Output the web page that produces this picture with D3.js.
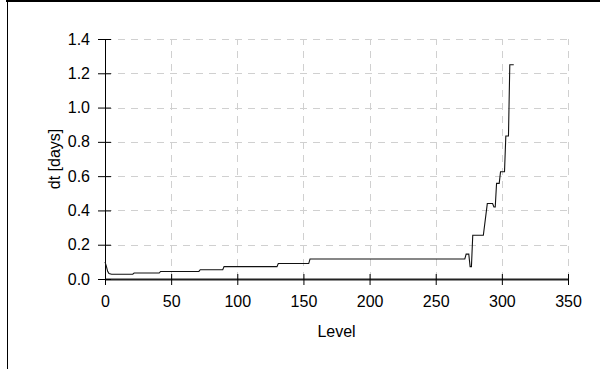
<!DOCTYPE html>
<html>
<head>
<meta charset="utf-8">
<script src="https://cdn.jsdelivr.net/npm/d3@7"></script>
<style>
  body { margin: 0; background: #fff; }
  text { font-family: "Liberation Sans", Arial, sans-serif; }
</style>
</head>
<body>
<div id="chart"></div>
<script>
var width = 600,
    height = 369;

// level number vs. time step
var levels = [0, 1, 2, 3, 5, 21, 22, 41, 42, 71, 72, 89, 90, 130, 131, 154, 155,
              272, 273, 275, 276, 277, 278, 286, 289, 293, 294, 295, 296, 298,
              299, 302, 303, 305, 306, 309];
var dt = [0.10, 0.075, 0.045, 0.032, 0.028, 0.028, 0.035, 0.035, 0.044, 0.044,
          0.054, 0.054, 0.072, 0.072, 0.09, 0.09, 0.117, 0.117, 0.145, 0.145,
          0.072, 0.072, 0.255, 0.255, 0.44, 0.44, 0.42, 0.42, 0.558, 0.558,
          0.626, 0.626, 0.834, 0.834, 1.25, 1.25];

var xTicks = [0, 50, 100, 150, 200, 250, 300, 350];
var yTicks = [0, 0.2, 0.4, 0.6, 0.8, 1.0, 1.2, 1.4];

var margin = {left: 105, right: 32, top: 39, bottom: 90};

var x = d3.scaleLinear().domain([0, 350]).range([margin.left, width - margin.right]);
var y = d3.scaleLinear().domain([0, 1.4]).range([height - margin.bottom, margin.top]);

var svg = d3.select("#chart").append("svg")
    .attr("width", width)
    .attr("height", height);

// frame (only top and left edges visible)
svg.append("line").attr("x1", 6).attr("x2", width).attr("y1", 1).attr("y2", 1)
    .attr("stroke", "#000").attr("stroke-width", 2);
svg.append("line").attr("x1", 7.5).attr("x2", 7.5).attr("y1", 0).attr("y2", height)
    .attr("stroke", "#000").attr("stroke-width", 1);

// grid
svg.append("g").selectAll("line")
    .data(xTicks.slice(1))
  .enter().append("line")
    .attr("x1", function(d){ return Math.round(x(d)) + 0.5; })
    .attr("x2", function(d){ return Math.round(x(d)) + 0.5; })
    .attr("y1", y(0)).attr("y2", y(1.4))
    .attr("stroke", "#d0d0d0")
    .attr("stroke-dasharray", "7,6");

svg.append("g").selectAll("line")
    .data(yTicks.slice(1))
  .enter().append("line")
    .attr("y1", function(d){ return Math.round(y(d)) + 0.5; })
    .attr("y2", function(d){ return Math.round(y(d)) + 0.5; })
    .attr("x1", x(0)).attr("x2", x(350))
    .attr("stroke", "#d0d0d0")
    .attr("stroke-dasharray", "7,6");

// axes
var xAxis = svg.append("g")
    .attr("transform", "translate(0," + y(0) + ")")
    .call(d3.axisBottom(x).tickValues(xTicks).tickSizeInner(6).tickSizeOuter(0).tickPadding(11));
xAxis.select(".domain").attr("stroke", "#222").attr("stroke-width", 2);
xAxis.selectAll(".tick line").attr("y1", -5).attr("stroke", "#000");
xAxis.selectAll("text").attr("font-size", 16).attr("fill", "#000");

var yAxis = svg.append("g")
    .attr("transform", "translate(" + x(0) + ",0)")
    .call(d3.axisLeft(y).tickValues(yTicks).tickFormat(d3.format(".1f"))
          .tickSizeInner(7).tickSizeOuter(0).tickPadding(8));
yAxis.select(".domain").attr("stroke", "#000");
yAxis.selectAll(".tick line").attr("x1", 6).attr("stroke", "#000");
yAxis.selectAll("text").attr("font-size", 16).attr("fill", "#000");

// axis titles
svg.append("text")
    .attr("x", (x(0) + x(350)) / 2)
    .attr("y", 337)
    .attr("text-anchor", "middle")
    .attr("font-size", 16)
    .text("Level");

svg.append("text")
    .attr("transform", "translate(60," + (y(0) + y(1.4)) / 2 + ") rotate(-90)")
    .attr("text-anchor", "middle")
    .attr("font-size", 16)
    .text("dt [days]");

// the curve
var lineFunction = d3.line()
    .x(function(d){ return x(d[0]); })
    .y(function(d){ return y(d[1]); });

svg.append("path")
    .datum(d3.zip(levels, dt))
    .attr("d", lineFunction)
    .attr("fill", "none")
    .attr("stroke", "#111")
    .attr("stroke-width", 1.1);
</script>
</body>
</html>
